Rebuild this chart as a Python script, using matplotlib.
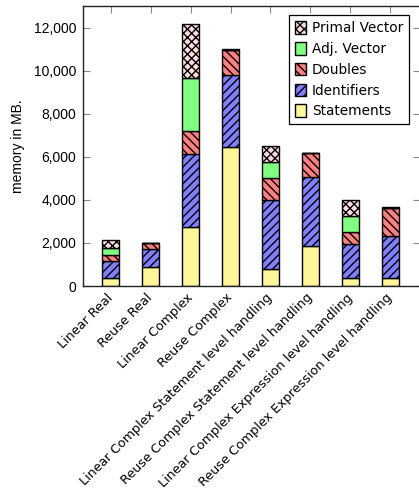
import matplotlib
matplotlib.use("Agg")
import matplotlib.pyplot as plt
import numpy as np
from matplotlib.ticker import FuncFormatter

categories = [
    "Linear Real",
    "Reuse Real",
    "Linear Complex",
    "Reuse Complex",
    "Linear Complex Statement level handling",
    "Reuse Complex Statement level handling",
    "Linear Complex Expression level handling",
    "Reuse Complex Expression level handling",
]

# memory per component in MB (stacked bottom to top)
statements = [372, 883, 2760, 6456, 808, 1844, 390, 372]
identifiers = [789, 822, 3390, 3363, 3172, 3205, 1579, 1969]
doubles = [279, 311, 1035, 1142, 1055, 1129, 558, 1300]
adj_vector = [344, 0, 2475, 15, 724, 0, 710, 0]
primal_vector = [371, 0, 2495, 15, 762, 15, 743, 15]

series = [
    ("Statements", statements, "#FFF799", ""),
    ("Identifiers", identifiers, "#8080FF", "////"),
    ("Doubles", doubles, "#FF8080", "\\\\\\\\"),
    ("Adj. Vector", adj_vector, "#80FF80", ""),
    ("Primal Vector", primal_vector, "#FFDCDC", "xxxx"),
]

plt.rcParams["hatch.linewidth"] = 1.0
plt.rcParams["hatch.color"] = "black"

fig = plt.figure(figsize=(4.19, 4.91), dpi=100)
ax = fig.add_axes([83 / 419, 1 - 286 / 491, (420 - 83) / 419, (286 - 6) / 491])

x = np.arange(len(categories))
bottom = np.zeros(len(categories))
handles = []
for name, vals, color, hatch in series:
    vals = np.array(vals, dtype=float)
    b = ax.bar(x, vals, width=0.44, bottom=bottom, color=color, edgecolor="black",
               linewidth=1.0, hatch=hatch, label=name, zorder=2)
    handles.append(b)
    bottom += vals

ax.set_xlim(-0.69, 7.74)
ax.set_ylim(0, 13000)
ax.set_yticks(np.arange(0, 12001, 2000))
ax.yaxis.set_major_formatter(FuncFormatter(lambda v, p: f"{int(v):,}"))
ax.set_xticks(x)
ax.set_xticklabels(categories, rotation=45, ha="right", va="center",
                   rotation_mode="anchor", family="DejaVu Sans", fontsize=9.2)
for lbl in ax.get_yticklabels():
    lbl.set_family("Liberation Sans")
    lbl.set_fontsize(10)
ax.tick_params(axis="both", direction="in", length=5, color="#888888",
               top=True, right=True, bottom=True)
ax.tick_params(axis="x", pad=7)
ax.tick_params(axis="y", pad=5)
for s in ax.spines.values():
    s.set_linewidth(1.0)
    s.set_color("#222222")

ax.set_ylabel("memory in MB.", family="Liberation Sans", fontsize=10, labelpad=6)

leg = ax.legend(handles[::-1], [h.get_label() for h in handles[::-1]],
                loc="upper right", bbox_to_anchor=(409 / 419, 1 - 15 / 491),
                bbox_transform=fig.transFigure, frameon=True, fancybox=False,
                edgecolor="black", framealpha=1, prop={"family": "DejaVu Sans", "size": 9.8},
                handlelength=0.8, handleheight=1.05, handletextpad=0.4,
                labelspacing=0.5, borderpad=0.45, borderaxespad=0)
leg.get_frame().set_linewidth(0.9)

fig.savefig("out.png", dpi=100)
